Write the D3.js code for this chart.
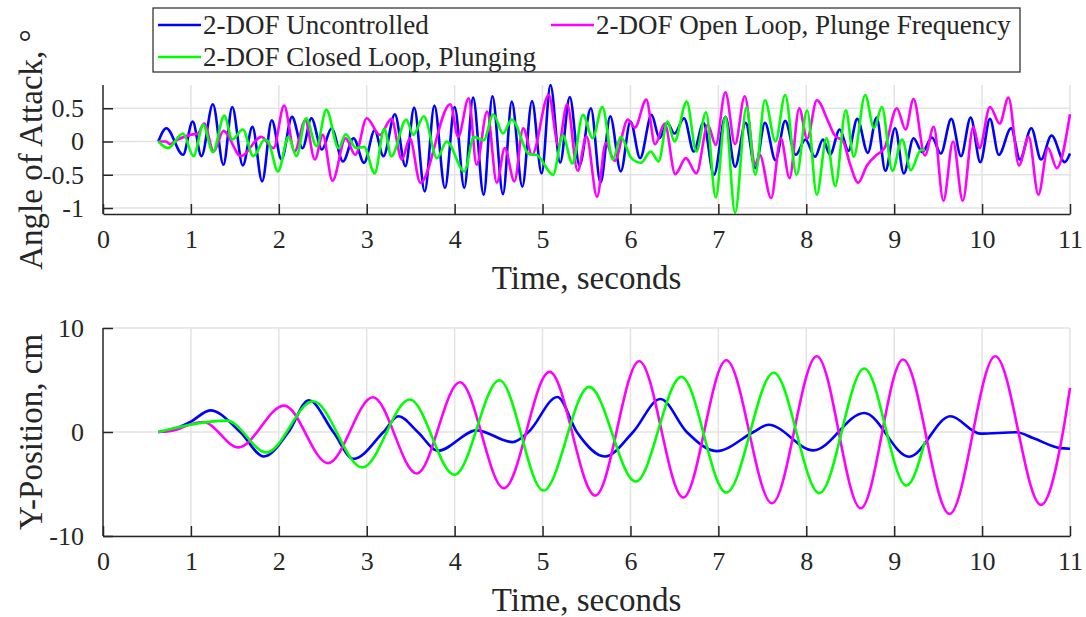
<!DOCTYPE html>
<html>
<head>
<meta charset="utf-8">
<script src="https://cdn.jsdelivr.net/npm/d3@7"></script>
<style>
  body { margin: 0; background: #fff; }
  text { font-family: "Liberation Serif", "Times New Roman", serif; fill: #262626; }
</style>
</head>
<body>
<svg id="chart" width="1086" height="617"></svg>
<script>
// series names (legend order)
const seriesNames = ["2-DOF Uncontrolled", "2-DOF Open Loop, Plunge Frequency", "2-DOF Closed Loop, Plunging"];
const seriesColors = ["#0000ff", "#ff00ff", "#00ff00"];

// ticks
const timeTicks = [0, 1, 2, 3, 4, 5, 6, 7, 8, 9, 10, 11];
const aoaTicks = [-1, -0.5, 0, 0.5];
const posTicks = [-10, 0, 10];

// Angle of attack (deg) vs time (s) as [t, value]
const aoaUncontrolled = [
  [0.63, 0], [0.72, 0.2], [0.91, -0.2], [1.02, 0.3], [1.12, -0.22], [1.25, 0.56], [1.37, -0.35],
  [1.47, 0.52], [1.59, -0.36], [1.70, 0.22], [1.81, -0.6], [1.92, 0.32], [2.03, -0.27], [2.15, 0.37],
  [2.27, -0.1], [2.37, 0.35], [2.49, -0.12], [2.60, 0.2], [2.73, -0.3], [2.85, 0.05], [2.97, -0.32],
  [3.09, 0.17], [3.19, -0.22], [3.32, 0.41], [3.44, -0.37], [3.54, 0.51], [3.66, -0.75], [3.77, 0.54],
  [3.89, -0.7], [4.0, 0.52], [4.11, -0.7], [4.21, 0.66], [4.33, -0.8], [4.43, 0.68], [4.55, -0.79],
  [4.65, 0.6], [4.77, -0.68], [4.88, 0.61], [4.99, -0.48], [5.09, 0.85], [5.2, -0.32], [5.31, 0.67],
  [5.42, -0.36], [5.55, 0.5], [5.66, -0.62], [5.77, 0.38], [5.89, -0.45], [6.0, 0.3], [6.11, -0.25],
  [6.24, 0.4], [6.33, 0.05], [6.42, 0.28], [6.5, 0.12], [6.61, 0.35], [6.72, -0.15], [6.83, 0.28],
  [6.95, -0.5], [7.08, 0.37], [7.19, -0.38], [7.31, 0.28], [7.42, -0.4], [7.53, 0.28], [7.65, -0.28],
  [7.76, 0.31], [7.88, -0.2], [7.99, 0.03], [8.1, -0.23], [8.19, 0.03], [8.27, -0.2], [8.38, 0.18],
  [8.48, -0.14], [8.58, 0.34], [8.7, -0.17], [8.8, 0.36], [8.9, -0.44], [9.01, 0.2], [9.11, -0.48],
  [9.22, 0.05], [9.32, -0.16], [9.43, 0.06], [9.53, -0.18], [9.65, 0.34], [9.76, -0.22], [9.87, 0.36],
  [9.98, -0.31], [10.09, 0.34], [10.19, -0.2], [10.33, 0.2], [10.43, -0.27], [10.56, 0.2], [10.67, -0.27],
  [10.79, 0.09], [10.94, -0.31], [11.0, -0.18]
];
const aoaOpenLoop = [
  [0.63, 0], [0.72, 0.0], [0.76, -0.04], [0.85, 0.03], [0.99, 0.1], [1.08, 0.12], [1.15, 0.27],
  [1.26, -0.15], [1.37, 0.16], [1.57, -0.22], [1.8, 0.07], [1.94, -0.1], [2.06, 0.54], [2.18, -0.15],
  [2.3, 0.32], [2.41, -0.27], [2.5, 0.1], [2.61, -0.59], [2.76, 0.05], [2.87, -0.2], [3.0, 0.35],
  [3.15, 0.1], [3.28, 0.34], [3.4, -0.27], [3.49, 0.05], [3.61, -0.62], [3.95, 0.56], [4.04, 0.07],
  [4.16, 0.65], [4.25, -0.35], [4.37, 0.45], [4.48, -0.62], [4.57, -0.1], [4.68, -0.6], [4.78, 0.2],
  [4.88, -0.2], [5.07, 0.7], [5.18, -0.06], [5.28, 0.56], [5.4, -0.44], [5.5, 0.08], [5.62, -0.83],
  [5.72, -0.02], [5.82, -0.29], [5.97, 0.33], [6.05, 0.21], [6.18, 0.63], [6.28, -0.04], [6.39, 0.27],
  [6.51, -0.49], [6.63, -0.25], [6.75, -0.48], [6.88, 0.25], [6.97, -0.05], [7.08, 0.74], [7.19, -0.04],
  [7.3, 0.68], [7.42, -0.34], [7.47, -0.2], [7.6, -0.85], [7.71, 0.05], [7.81, -0.55], [7.92, 0.5],
  [8.01, 0.04], [8.12, 0.62], [8.25, 0.3], [8.32, 0.1], [8.42, 0.0], [8.5, -0.35], [8.59, -0.62],
  [8.69, -0.36], [8.8, -0.2], [8.89, -0.1], [9.03, 0.5], [9.13, 0.18], [9.22, 0.64], [9.35, -0.21],
  [9.45, 0.22], [9.56, -0.89], [9.67, 0.0], [9.78, -0.89], [9.9, 0.22], [9.97, -0.1], [10.09, 0.52],
  [10.2, 0.27], [10.3, 0.66], [10.42, -0.36], [10.53, 0.07], [10.64, -0.8], [10.75, -0.1], [10.85, -0.4],
  [11.0, 0.41]
];
const aoaClosedLoop = [
  [0.63, 0], [0.74, -0.1], [0.91, 0.12], [1.03, -0.22], [1.14, 0.25], [1.25, -0.16], [1.38, 0.39],
  [1.47, 0.03], [1.59, 0.18], [1.71, -0.22], [1.84, 0.03], [1.88, 0.0], [1.99, -0.45], [2.11, 0.07],
  [2.2, -0.22], [2.31, 0.35], [2.43, -0.07], [2.54, 0.48], [2.68, -0.1], [2.76, 0.11], [2.88, -0.1],
  [2.97, -0.08], [3.09, -0.48], [3.2, 0.19], [3.28, -0.22], [3.45, 0.33], [3.53, 0.1], [3.65, 0.38],
  [3.8, -0.25], [3.91, 0.0], [4.11, -0.45], [4.22, 0.07], [4.33, 0.02], [4.44, 0.41], [4.55, 0.12],
  [4.65, 0.33], [4.85, -0.19], [4.93, -0.2], [5.12, -0.5], [5.23, 0.09], [5.34, -0.33], [5.46, 0.4],
  [5.57, 0.05], [5.68, 0.52], [5.8, -0.27], [5.89, 0.07], [6.01, -0.25], [6.12, -0.32], [6.23, -0.15],
  [6.32, -0.3], [6.42, 0.3], [6.5, 0.0], [6.64, 0.6], [6.75, -0.15], [6.86, 0.44], [6.97, -0.84],
  [7.08, 0.37], [7.19, -1.07], [7.32, 0.52], [7.42, -0.5], [7.53, 0.62], [7.65, 0.0], [7.76, 0.7],
  [7.89, -0.5], [8.01, 0.47], [8.12, -0.8], [8.23, 0.05], [8.33, -0.67], [8.45, 0.47], [8.54, -0.23],
  [8.67, 0.7], [8.77, 0.2], [8.86, 0.52], [8.98, -0.44], [9.09, 0.03], [9.19, -0.43], [9.3, -0.13],
  [9.35, -0.12]
];

// Y position (cm) vs time (s)
const posUncontrolled = [
  [0.63, 0], [0.76, 0.16], [1.0, 1.0], [1.22, 2.08], [1.56, 0], [1.83, -2.35], [2.11, 0], [2.34, 3.05],
  [2.62, 0], [2.85, -2.58], [3.19, 0], [3.36, 1.51], [3.58, 0], [3.81, -1.8], [4.25, 0.16], [4.66, -0.97],
  [4.84, 0], [5.17, 3.37], [5.39, 0], [5.71, -2.35], [6.03, 0], [6.34, 3.18], [6.64, 0], [6.98, -1.84],
  [7.4, 0], [7.57, 0.7], [8.08, -1.77], [8.66, 1.83], [9.17, -2.38], [9.64, 1.51], [9.98, -0.16],
  [10.39, -0.03], [10.58, -0.58], [10.89, -1.55], [11.0, -1.61]
];
const posOpenLoop = [
  [0.63, 0], [0.8, 0.15], [1.0, 0.75], [1.14, 0.96], [1.54, -1.48], [2.06, 2.54], [2.56, -2.99],
  [3.07, 3.34], [3.57, -3.99], [4.06, 4.79], [4.56, -5.4], [5.08, 5.78], [5.6, -6.11], [6.1, 6.81],
  [6.6, -6.3], [7.09, 6.9], [7.61, -6.85], [8.12, 7.29], [8.62, -7.33], [9.1, 6.97], [9.63, -7.88],
  [10.15, 7.29], [10.67, -7.01], [10.92, 0], [11.0, 4.24]
];
const posClosedLoop = [
  [0.63, 0], [0.99, 0.7], [1.41, 1.09], [1.86, -1.96], [2.39, 2.95], [2.95, -3.41], [3.49, 3.12],
  [4.0, -4.12], [4.51, 4.98], [5.01, -5.63], [5.53, 4.34], [6.06, -4.76], [6.58, 5.3], [7.09, -5.82],
  [7.63, 5.69], [8.15, -5.88], [8.66, 6.1], [9.14, -5.15], [9.35, -0.9]
];

let svg = d3.select("#chart");
const axisColor = "#262626";
const gridColor = "#e3e3e3";

/**
 * Draws one MATLAB-style panel (grid, axes, inward ticks, lines)
 */
function drawPanel(box, yDomain, yTicks, yLabel, series) {
  let x = d3.scaleLinear().domain([0, 11]).range([box.left, box.right]);
  let y = d3.scaleLinear().domain(yDomain).range([box.bottom, box.top]);

  let g = svg.append("g");

  // grid
  g.selectAll("line.vgrid").data(timeTicks.slice(1)).join("line")
    .attr("x1", d => x(d)).attr("x2", d => x(d))
    .attr("y1", box.top).attr("y2", box.bottom)
    .attr("stroke", gridColor).attr("stroke-width", 1.5);
  g.selectAll("line.hgrid").data(yTicks).join("line")
    .attr("x1", box.left).attr("x2", box.right)
    .attr("y1", d => y(d)).attr("y2", d => y(d))
    .attr("stroke", gridColor).attr("stroke-width", 1.5);

  // lines
  let line = d3.line()
    .x(d => x(d[0]))
    .y(d => y(d[1]))
    .curve(d3.curveMonotoneX);
  series.forEach((s, i) => {
    g.append("path")
      .attr("d", line(s))
      .attr("fill", "none")
      .attr("stroke", seriesColors[i])
      .attr("stroke-width", 2.6)
      .attr("stroke-linejoin", "round");
  });

  // axes, ticks pointing inward
  let xAxis = d3.axisBottom(x).tickValues(timeTicks).tickSizeInner(-10).tickSizeOuter(0)
    .tickPadding(16).tickFormat(d => String(d));
  let gx = g.append("g").attr("transform", "translate(0," + box.bottom + ")").call(xAxis);
  let yAxis = d3.axisLeft(y).tickValues(yTicks).tickSizeInner(-10).tickSizeOuter(0)
    .tickPadding(19).tickFormat(d => String(d));
  let gy = g.append("g").attr("transform", "translate(" + box.left + ",0)").call(yAxis);

  [gx, gy].forEach(a => {
    a.select(".domain").attr("stroke", axisColor).attr("stroke-width", 1.5);
    a.selectAll(".tick line").attr("stroke", axisColor).attr("stroke-width", 1.5);
    a.selectAll(".tick text")
      .attr("font-size", 26).attr("fill", axisColor);
  });
  // extend y axis line to the bottom axis
  gy.select(".domain").attr("d", "M0," + box.top + "V" + box.bottom);

  // labels
  g.append("text")
    .attr("x", (box.left + box.right) / 2).attr("y", box.bottom + 75)
    .attr("text-anchor", "middle").attr("font-size", 33)
    .text("Time, seconds");
  g.append("text")
    .attr("transform", "translate(" + 42 + "," + ((box.top + box.bottom) / 2) + ") rotate(-90)")
    .attr("text-anchor", "middle").attr("font-size", 33)
    .text(yLabel);
}

drawPanel({ left: 103, right: 1070, top: 85, bottom: 214 }, [-1.09, 0.85], aoaTicks,
  "Angle of Attack, \u00b0", [aoaUncontrolled, aoaOpenLoop, aoaClosedLoop]);
drawPanel({ left: 103, right: 1070, top: 328, bottom: 536 }, [-10, 10], posTicks,
  "Y-Position, cm", [posUncontrolled, posOpenLoop, posClosedLoop]);

// legend (2 columns)
let legend = svg.append("g");
legend.append("rect")
  .attr("x", 153).attr("y", 8).attr("width", 867).attr("height", 64)
  .attr("fill", "#fff").attr("stroke", axisColor).attr("stroke-width", 1.2);
const legendPos = [[158, 25], [551, 25], [158, 57]];
seriesNames.forEach((name, i) => {
  let p = legendPos[i];
  legend.append("line")
    .attr("x1", p[0]).attr("x2", p[0] + 43)
    .attr("y1", p[1]).attr("y2", p[1])
    .attr("stroke", seriesColors[i]).attr("stroke-width", 2.6);
  legend.append("text")
    .attr("x", p[0] + 45).attr("y", p[1])
    .attr("dy", "0.35em").attr("font-size", 27)
    .text(name);
});
</script>
</body>
</html>
